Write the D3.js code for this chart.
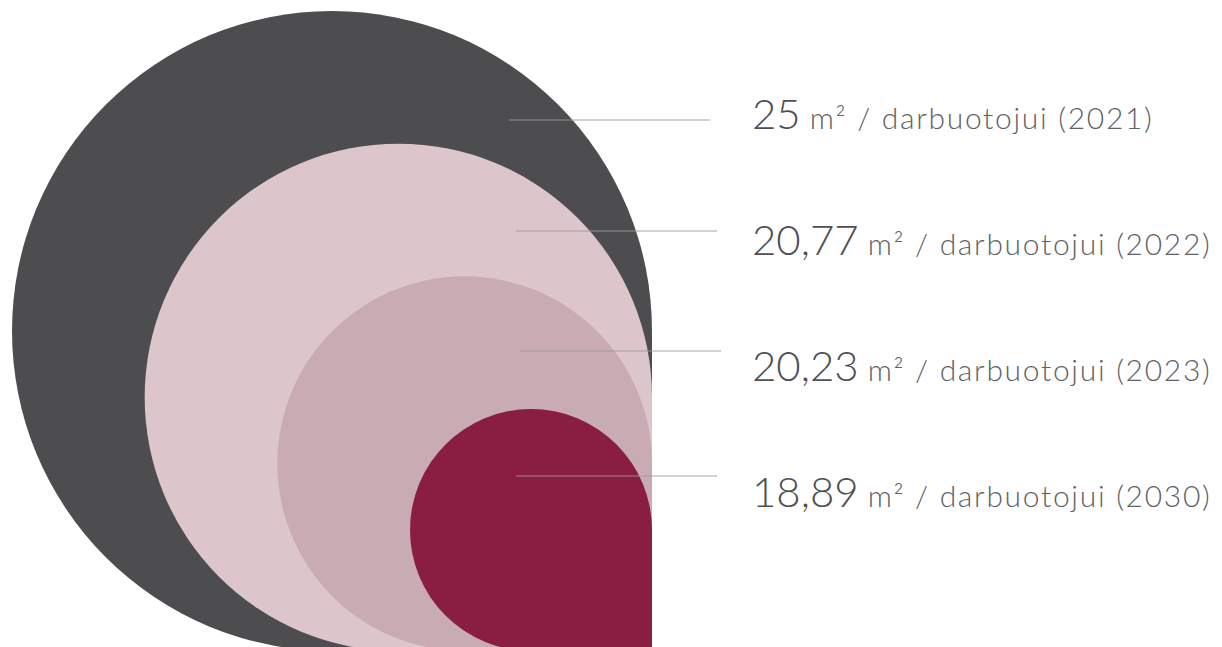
<!DOCTYPE html>
<html>
<head>
<meta charset="utf-8">
<script src="https://cdn.jsdelivr.net/npm/d3@7"></script>
<style>
  html, body { margin: 0; padding: 0; background: #fff; overflow: hidden; }
  text { font-family: Lato, "Open Sans", sans-serif; }
</style>
</head>
<body>
<div id="chart"></div>
<script>
// data
var years = ['2021', '2022', '2023', '2030'];
var values = ['25', '20,77', '20,23', '18,89'];
var unit = 'm\u00B2 / darbuotojui';
var colors = ['#4d4d4f', '#dcc5cb', '#c9abb3', '#8a1e42'];

var width = 1222, height = 647;
var corner = { x: 652, y: 651 };

var svg = d3.select('#chart').append('svg')
    .attr('width', width)
    .attr('height', height);

// shapes shrink step by step, all sharing the same bottom right corner
var radius = d3.scaleLinear()
    .domain([0, years.length - 1])
    .range([320, 121]);

function drop(r) {
  var cx = corner.x - r, cy = corner.y - r;
  var p = d3.path();
  p.moveTo(cx + r, cy);
  p.arc(cx, cy, r, 0, Math.PI / 2, true);
  p.lineTo(cx + r, cy + r);
  p.closePath();
  return p.toString();
}

svg.selectAll('path.drop')
    .data(years)
  .enter().append('path')
    .attr('class', 'drop')
    .attr('d', function(d, i) { return drop(radius(i)); })
    .style('fill', function(d, i) { return colors[i]; });

// leader lines and labels
var lineY = [120, 231, 351, 476];
var lineX = [509, 516, 520, 516];
var textY = d3.scaleLinear().domain([0, 3]).range([129, 507]);

svg.selectAll('line.leader')
    .data(years)
  .enter().append('line')
    .attr('class', 'leader')
    .attr('x1', function(d, i) { return lineX[i]; })
    .attr('x2', function(d, i) { return lineX[i] + 201; })
    .attr('y1', function(d, i) { return lineY[i]; })
    .attr('y2', function(d, i) { return lineY[i]; })
    .style('stroke', '#9a9a9a')
    .style('stroke-opacity', 0.6)
    .style('stroke-width', 1.6);

var label = svg.selectAll('text.label')
    .data(years)
  .enter().append('text')
    .attr('class', 'label')
    .attr('x', 752)
    .attr('y', function(d, i) { return textY(i); })
    .style('fill', '#505052');

label.append('tspan')
    .style('font-size', '42px')
    .style('font-weight', 300)
    .text(function(d, i) { return values[i]; });

label.append('tspan')
    .attr('dx', 9)
    .style('font-size', '30px')
    .style('font-weight', 300)
    .style('letter-spacing', '1.7px')
    .style('fill', '#626264')
    .text(function(d) { return unit + ' (' + d + ')'; });
</script>
</body>
</html>
